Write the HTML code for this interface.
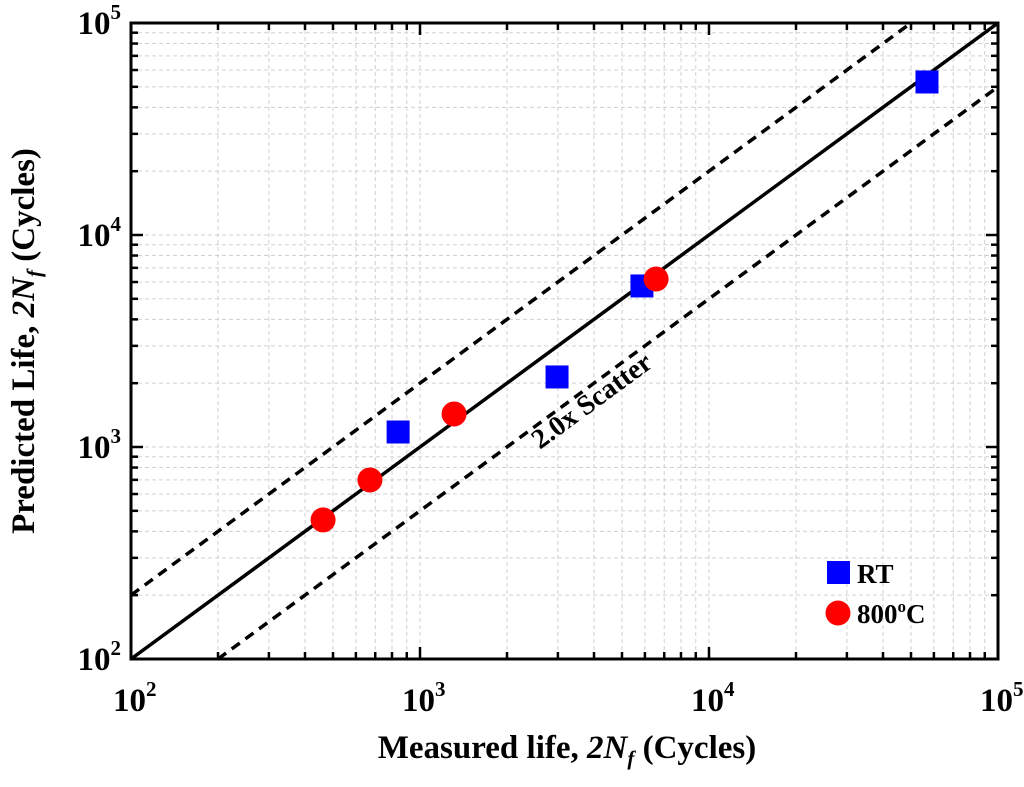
<!DOCTYPE html>
<html><head><meta charset="utf-8"><style>
body{margin:0;background:#fff;}
svg text{font-family:"Liberation Serif",serif;font-weight:bold;fill:#000;}
</style></head><body>
<svg id="chart" width="1024" height="782" viewBox="0 0 1024 782">
<g id="grid"></g>
<g id="lines"></g>
<g id="marks"></g>
<rect x="131" y="23" width="867" height="636" fill="none" stroke="#000" stroke-width="3"/>
<g id="ticks"></g>
<text x="597" y="408" font-size="28" transform="rotate(-36.3 597 408)" text-anchor="middle">2.0x Scatter</text>
<rect x="827" y="561" width="23" height="23" fill="#0000ff"/>
<text x="857" y="583" font-size="27">RT</text>
<circle cx="838" cy="613" r="12.5" fill="#ff0000"/>
<text x="857" y="623" font-size="27">800<tspan font-size="17" dy="-11">o</tspan><tspan dy="11">C</tspan></text>
<text x="567" y="758" font-size="33" text-anchor="middle">Measured life, <tspan font-style="italic">2N</tspan><tspan font-style="italic" font-size="21" dy="7">f</tspan><tspan dy="-7"> (Cycles)</tspan></text>
<text transform="translate(34 341) rotate(-90)" font-size="33" text-anchor="middle">Predicted Life, <tspan font-style="italic">2N</tspan><tspan font-style="italic" font-size="21" dy="7">f</tspan><tspan dy="-7"> (Cycles)</tspan></text>
</svg>
<script>
const rtMeasured=[840,2980,5860,56800];
const rtPredicted=[1177,2140,5750,52700];
const hotMeasured=[462,671,1312,6560];
const hotPredicted=[453,699,1432,6200];
const decades=[2,3,4,5];
const X0=131,X1=998,Y0=659,Y1=23;
const sx=v=>X0+(Math.log10(v)-2)/3*(X1-X0);
const sy=v=>Y0-(Math.log10(v)-2)/3*(Y0-Y1);
const NS="http://www.w3.org/2000/svg";
function mk(tag,parent,attrs){const e=document.createElementNS(NS,tag);for(const k in attrs)e.setAttribute(k,attrs[k]);document.getElementById(parent).appendChild(e);return e;}
for(let d=2;d<5;d++){for(let m=1;m<10;m++){const v=m*Math.pow(10,d);
 const x=sx(v),y=sy(v);
 if(m>1||d>2){
  const g1=mk('line','grid',{x1:x,y1:Y1,x2:x,y2:Y0,stroke:'#d0d0d0','stroke-width':1,'stroke-dasharray':'4,3'});
  
  const g2=mk('line','grid',{x1:X0,y1:y,x2:X1,y2:y,stroke:'#d0d0d0','stroke-width':1,'stroke-dasharray':'4,3'});
  
 }
 const L=m===1?12:7;
 [[x,Y0,x,Y0-L],[x,Y1,x,Y1+L],[X0,y,X0+L,y],[X1,y,X1-L,y]].forEach(c=>{
  const t=mk('line','ticks',{x1:c[0],y1:c[1],x2:c[2],y2:c[3],stroke:'#000','stroke-width':2.5});
  });
}}
decades.forEach(d=>{const v=Math.pow(10,d);
 const tx=mk('text','ticks',{x:sx(v)-18,y:Y0+52,'font-size':33});
 tx.innerHTML='10<tspan font-size="21" dy="-15">'+d+'</tspan>';
 
 const ty=mk('text','ticks',{x:X0-10,y:sy(v)+11,'font-size':33,'text-anchor':'end'});
 ty.innerHTML='10<tspan font-size="21" dy="-15">'+d+'</tspan>';
 
});
function refLine(k,dash,name){
 const xs=Math.max(100,100/k),xe=Math.min(100000,100000/k);
 const l=mk('line','lines',{x1:sx(xs),y1:sy(xs*k),x2:sx(xe),y2:sy(xe*k),stroke:'#000','stroke-width':3.5,'stroke-dasharray':dash});
 }
refLine(1,'none','one-to-one-line');
refLine(2,'10,7','upper-scatter-bound');
refLine(0.5,'10,7','lower-scatter-bound');
rtMeasured.forEach((m,i)=>{const r=mk('rect','marks',{x:sx(m)-11.5,y:sy(rtPredicted[i])-11.5,width:23,height:23,fill:'#0000ff'});
 });
hotMeasured.forEach((m,i)=>{const c=mk('circle','marks',{cx:sx(m),cy:sy(hotPredicted[i]),r:12.5,fill:'#ff0000'});
 });
</script>
</body></html>
